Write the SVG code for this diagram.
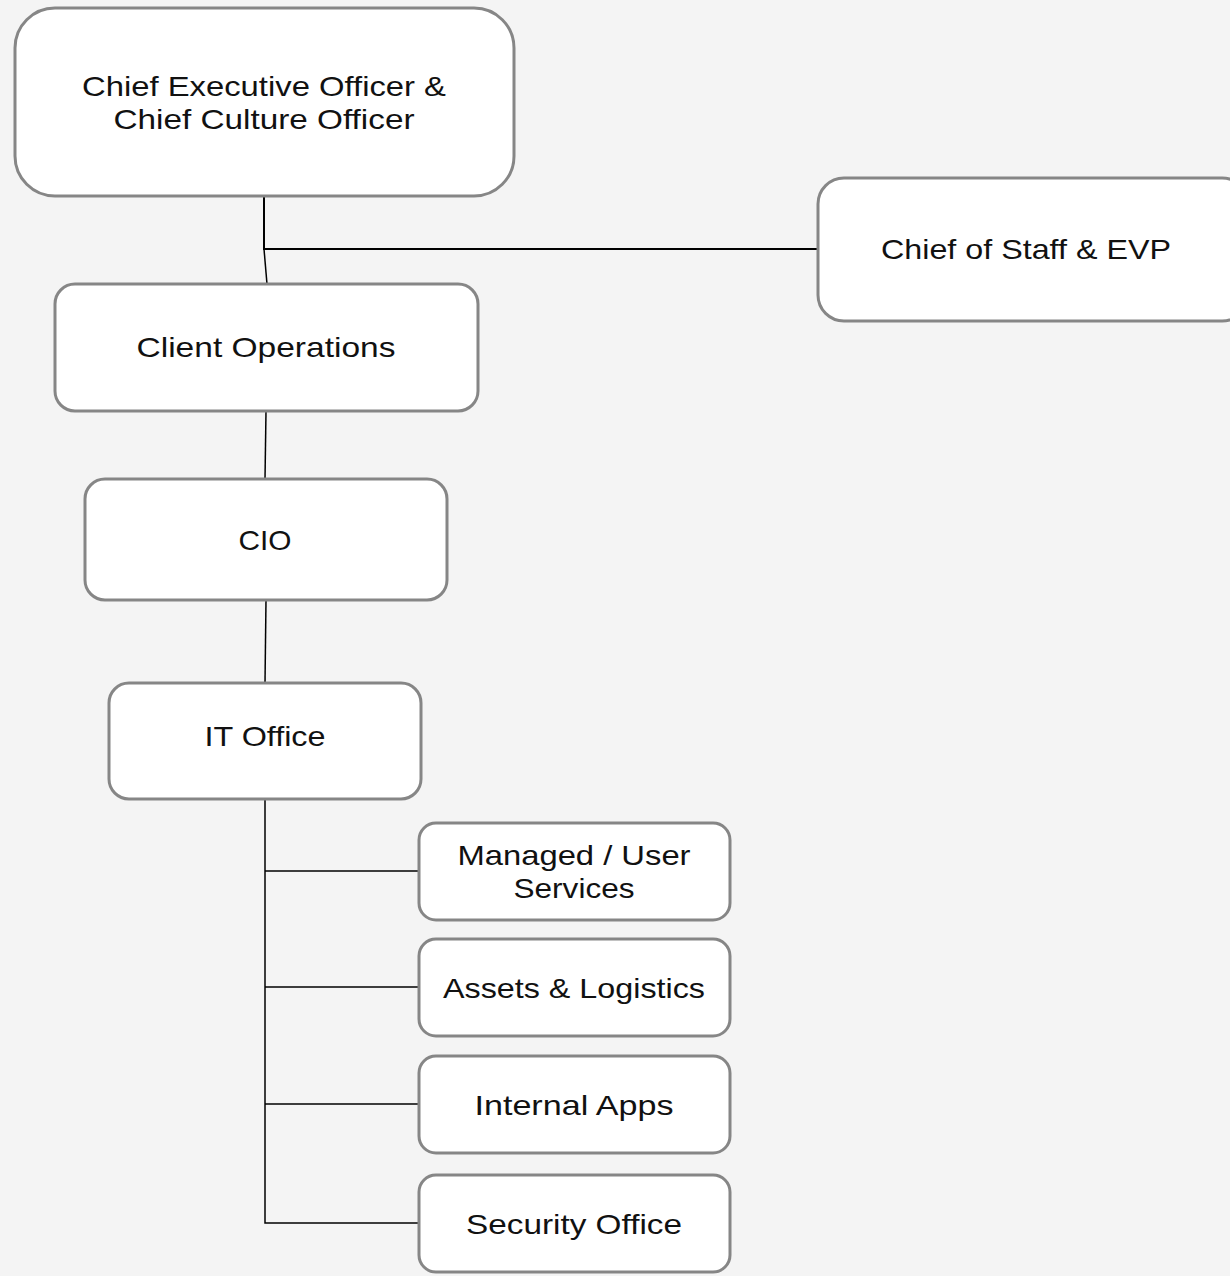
<svg xmlns="http://www.w3.org/2000/svg" width="1230" height="1276" viewBox="0 0 1230 1276">
<style>
.box{fill:#ffffff;stroke:#868686;stroke-width:3}
.lbl{font-family:"Liberation Sans",Arial,sans-serif;font-size:28px;fill:#111111;text-anchor:middle}
.ln{stroke:#000000;stroke-width:1.5;fill:none}
</style>
<rect width="1230" height="1276" fill="#f4f4f4"/>
<g id="connectors">
<polyline class="ln" points="264,197 264,249 818,249" style="stroke-width:2"/>
<line class="ln" x1="264" y1="249" x2="267" y2="284"/>
<line class="ln" x1="266" y1="411" x2="265" y2="479"/>
<line class="ln" x1="266" y1="600" x2="265" y2="683"/>
<polyline class="ln" points="265,799 265,1223 419,1223"/>
<line class="ln" x1="265" y1="871" x2="419" y2="871"/>
<line class="ln" x1="265" y1="987" x2="419" y2="987"/>
<line class="ln" x1="265" y1="1104" x2="419" y2="1104"/>
</g>
<g id="ceo">
<rect class="box" x="15" y="8" width="499" height="188" rx="40"/>
<text class="lbl" x="264" y="96" textLength="364" lengthAdjust="spacingAndGlyphs">Chief Executive Officer &amp;</text>
<text class="lbl" x="264" y="129" textLength="301" lengthAdjust="spacingAndGlyphs">Chief Culture Officer</text>
</g>
<g id="chief-of-staff">
<rect class="box" x="818" y="178" width="430" height="143" rx="26"/>
<text class="lbl" x="1026" y="259" textLength="290" lengthAdjust="spacingAndGlyphs">Chief of Staff &amp; EVP</text>
</g>
<g id="client-ops">
<rect class="box" x="55" y="284" width="423" height="127" rx="20"/>
<text class="lbl" x="266" y="357" textLength="259" lengthAdjust="spacingAndGlyphs">Client Operations</text>
</g>
<g id="cio">
<rect class="box" x="85" y="479" width="362" height="121" rx="20"/>
<text class="lbl" x="265" y="550" textLength="53" lengthAdjust="spacingAndGlyphs">CIO</text>
</g>
<g id="it-office">
<rect class="box" x="109" y="683" width="312" height="116" rx="20"/>
<text class="lbl" x="265" y="746" textLength="121" lengthAdjust="spacingAndGlyphs">IT Office</text>
</g>
<g id="managed">
<rect class="box" x="419" y="823" width="311" height="97" rx="17"/>
<text class="lbl" x="574" y="865" textLength="233" lengthAdjust="spacingAndGlyphs">Managed / User</text>
<text class="lbl" x="574" y="898" textLength="121" lengthAdjust="spacingAndGlyphs">Services</text>
</g>
<g id="assets">
<rect class="box" x="419" y="939" width="311" height="97" rx="17"/>
<text class="lbl" x="574" y="998" textLength="262" lengthAdjust="spacingAndGlyphs">Assets &amp; Logistics</text>
</g>
<g id="internal-apps">
<rect class="box" x="419" y="1056" width="311" height="97" rx="17"/>
<text class="lbl" x="574" y="1115" textLength="199" lengthAdjust="spacingAndGlyphs">Internal Apps</text>
</g>
<g id="security">
<rect class="box" x="419" y="1175" width="311" height="97" rx="17"/>
<text class="lbl" x="574" y="1234" textLength="216" lengthAdjust="spacingAndGlyphs">Security Office</text>
</g>
</svg>
